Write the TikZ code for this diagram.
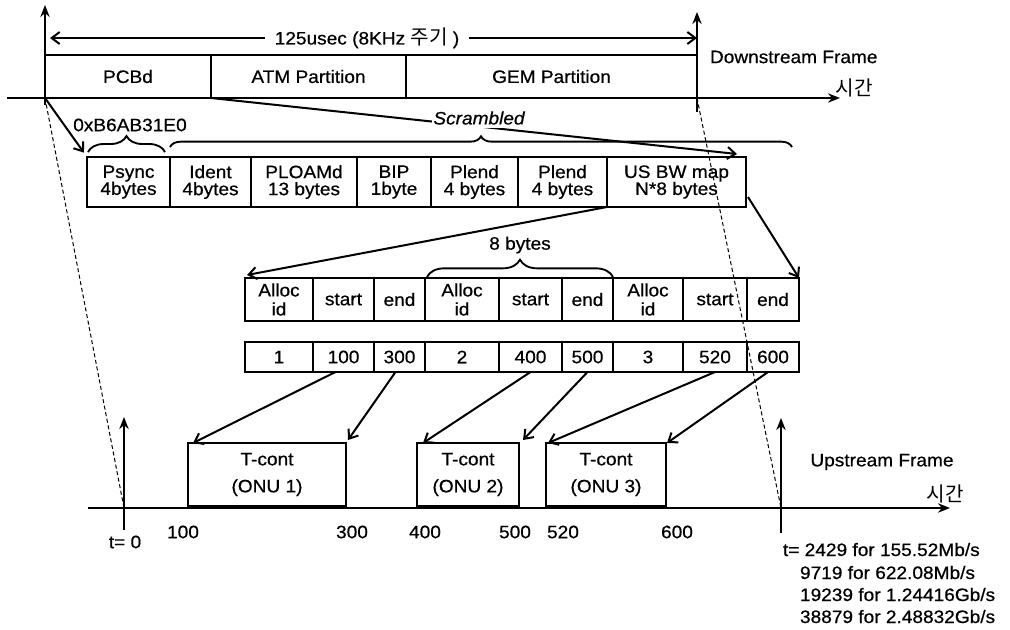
\documentclass[tikz,border=0pt]{standalone}
\usepackage{fontspec}
\setmainfont{Liberation Sans}[FakeStretch=1.06,FakeBold=0.6]
\newfontfamily\kr{Noto Sans CJK KR}[Scale=1.12]
\usetikzlibrary{arrows.meta,calc,decorations.pathreplacing}
\newcommand\cellat[6]{\node[cell, minimum width={(#4-#2)*0.75pt}, minimum height={(#5-#3)*0.75pt}] (#1) at ({(#2+#4)/2},{(#3+#5)/2}) {#6};}
\begin{document}
\begin{tikzpicture}[x=0.75pt,y=-0.75pt,
  every node/.style={font=\fontsize{13.5pt}{13.5pt}\selectfont, inner sep=0pt, outer sep=0pt},
  cell/.style={draw, line width=1.25pt, align=center, font=\fontsize{13.5pt}{12.75pt}\selectfont},
  axis/.style={line width=1.9pt, -{Stealth[length=9pt,width=7pt]}},
  conn/.style={line width=1.5pt, -{Straight Barb[length=6pt,width=9pt,line width=1.5pt]}},
  guide/.style={line width=0.75pt, dash pattern=on 3pt off 2pt},
  brc/.style={decorate, decoration={brace, amplitude=#1}, line width=1.4pt},
]
\useasboundingbox (0,0) rectangle (1010,629);

% ---------- downstream frame ----------
\cellat{pcbd}{45}{55}{211}{98}{PCBd}
\cellat{atm}{211}{55}{406}{98}{ATM Partition}
\cellat{gem}{406}{55}{697}{98}{GEM Partition}

\coordinate (o1) at (45,98);
\coordinate (o2) at (697,98);
\coordinate (u1) at (124,508);
\coordinate (u2) at (781,508);

\draw[axis] (45,105) -- (45,5);
\draw[axis] (7,98) -- (840,98);
\draw[axis] (697,112) -- (697,12);
\node (tim1) at (854,88) {\kr 시간};

\node[inner xsep=7pt] (period) at (367,38) {125usec (8KHz {\kr 주기} )};
\coordinate (pl) at (50,38);
\coordinate (pr) at (697,38);
\draw[conn] (period.west) -- (pl);
\draw[conn] (period.east) -- (pr);

\node[anchor=west] (dsf) at (710,57) {Downstream Frame};

% ---------- PCBd fields ----------
\cellat{psync}{87}{157}{170}{207}{Psync\\4bytes}
\cellat{ident}{170}{157}{251}{207}{Ident\\4bytes}
\cellat{ploam}{251}{157}{357}{207}{PLOAMd\\13 bytes}
\cellat{bip}{357}{157}{431}{207}{BIP\\1byte}
\cellat{plend1}{431}{157}{518}{207}{Plend\\4 bytes}
\cellat{plend2}{518}{157}{607}{207}{Plend\\4 bytes}
\cellat{usbw}{607}{157}{746}{207}{US BW map\\N*8 bytes}

\node (hex) at (130,125) {0xB6AB31E0};
\draw[brc=12pt] (88,152) -- (165,152);
\draw[brc=8pt] (170,147) -- (792,147);

\draw[conn] (pcbd.south east) -- ($(usbw.north east)+(-9,-3)$);
\node[fill=white, inner xsep=1pt, inner ysep=2.5pt, font=\fontsize{13.5pt}{13.5pt}\selectfont\itshape] (scr) at (479,118) {Scrambled};

\draw[conn, shorten >=4pt] (o1) -- (psync.north west);

% ---------- BW map ----------
\cellat{a1}{245}{278}{313}{321}{Alloc\\[1.5pt]id}
\cellat{s1}{313}{278}{374}{321}{start}
\cellat{e1}{374}{278}{425}{321}{end}
\cellat{a2}{425}{278}{499}{321}{Alloc\\[1.5pt]id}
\cellat{s2}{499}{278}{562}{321}{start}
\cellat{e2}{562}{278}{613}{321}{end}
\cellat{a3}{613}{278}{683}{321}{Alloc\\[1.5pt]id}
\cellat{s3}{683}{278}{747}{321}{start}
\cellat{e3}{747}{278}{799}{321}{end}

\cellat{v1}{245}{342}{313}{372}{1}
\cellat{v100}{313}{342}{374}{372}{100}
\cellat{v300}{374}{342}{425}{372}{300}
\cellat{v2}{425}{342}{499}{372}{2}
\cellat{v400}{499}{342}{562}{372}{400}
\cellat{v500}{562}{342}{613}{372}{500}
\cellat{v3}{613}{342}{683}{372}{3}
\cellat{v520}{683}{342}{747}{372}{520}
\cellat{v600}{747}{342}{799}{372}{600}

\draw[brc=13pt] (427,277) -- (613,277);
\node (eight) at (520,245) {8 bytes};

\draw[conn] (usbw.south west) -- ($(a1.north west)+(2,-3)$);
\draw[conn] ($(usbw.south east)+(2,-10)$) -- (e3.north east);

% ---------- guides ----------
\draw[guide] (o1) -- (u1);
\draw[guide] (o2) -- (u2);

% ---------- upstream frame ----------
\cellat{t1}{188}{443}{346}{506}{T-cont\\[7.5pt](ONU 1)}
\cellat{t2}{417}{443}{519}{506}{T-cont\\[7.5pt](ONU 2)}
\cellat{t3}{546}{443}{666}{506}{T-cont\\[7.5pt](ONU 3)}

\draw[axis] (124,530) -- (124,417);
\draw[axis] (88,508) -- (950,508);
\draw[axis] (781,533) -- (781,418);

\draw[conn] ($(v100.south)+(-8,0)$) -- ($(t1.north west)+(5,0)$);
\draw[conn] ($(v300.south)+(-4,0)$) -- ($(t1.north east)+(2,-3)$);
\draw[conn] (v400.south) -- ($(t2.north west)+(6,0)$);
\draw[conn] (v500.south) -- ($(t2.north east)+(4,-3)$);
\draw[conn] (v520.south) -- ($(t3.north west)+(2,0)$);
\draw[conn] ($(v600.south)+(-5,0)$) -- ($(t3.north east)+(1,0)$);

\node (l100) at (183,532) {100};
\node (l300) at (352,532) {300};
\node (l400) at (425,532) {400};
\node (l500) at (515,532) {500};
\node (l520) at (563,532) {520};
\node (l600) at (677,532) {600};
\node (t0) at (125,542) {t= 0};

\node (usf) at (882,462) {Upstream Frame};
\node (tim2) at (945,494) {\kr 시간};

\node[anchor=base west] (r1) at (783,556) {t= 2429 for 155.52Mb/s};
\node[anchor=base west] (r2) at (800,579) {9719 for 622.08Mb/s};
\node[anchor=base west] (r3) at (800,601) {19239 for 1.24416Gb/s};
\node[anchor=base west] (r4) at (800,623) {38879 for 2.48832Gb/s};
\end{tikzpicture}
\end{document}
